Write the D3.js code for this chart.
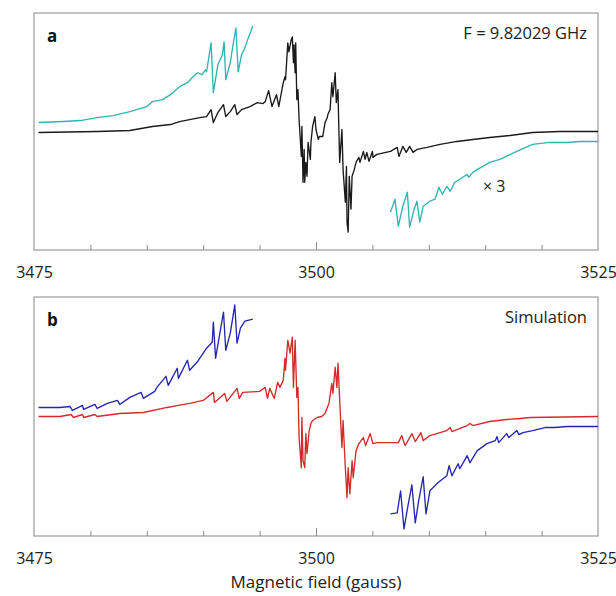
<!DOCTYPE html>
<html>
<head>
<meta charset="utf-8">
<script src="https://cdn.jsdelivr.net/npm/d3@7"></script>
<style>
  html, body { margin: 0; padding: 0; background: #fff; }
  svg { display: block; }
</style>
</head>
<body>
<svg id="chart" width="616" height="596"></svg>
<script>
// ---------------- DATA ----------------
const fieldDomain = [3475, 3525];
const labelTicks = [3475, 3500, 3525];
const minorTicks = [3480, 3485, 3490, 3495, 3505, 3510, 3515, 3520];
const intensityDomain = [-119, 119];

// Panel a: experimental spectrum [field (G), intensity (a.u.)]
const expMain = [
  [3475.4,-1],[3480.6,0],[3483.5,1],[3485.5,5],[3487.1,7],[3487.9,10],[3488.8,12],[3489.7,14],
  [3490.3,15],[3490.7,22],[3490.9,9],[3491.3,19],[3491.8,27],[3492.0,15],[3492.4,20],[3492.8,27],
  [3493.0,17],[3493.4,22],[3494.15,25],[3494.8,29],[3495.3,28],[3495.5,30],[3495.8,41],[3496.1,25],
  [3496.5,37],[3496.7,25],[3497.1,49],[3497.25,55],[3497.3,52],[3497.5,89],[3497.6,80],[3497.8,92],
  [3497.9,95],[3498.0,69],[3498.05,87],[3498.15,59],[3498.2,89],[3498.3,32],[3498.4,42],[3498.5,12],
  [3498.7,-25],[3498.75,5],[3498.85,-51],[3498.95,-18],[3499.0,-51],[3499.1,-31],[3499.2,-45],
  [3499.3,-11],[3499.5,-28],[3499.55,-11],[3499.7,5],[3499.9,15],[3500.0,2],[3500.2,-8],[3500.3,-5],
  [3500.6,-5],[3500.8,9],[3501.0,14],[3501.05,17],[3501.25,22],[3501.4,49],[3501.5,35],[3501.7,59],
  [3501.8,29],[3501.95,42],[3502.0,15],[3502.1,-31],[3502.3,2],[3502.4,-38],[3502.6,-71],[3502.7,-35],
  [3502.75,-91],[3502.85,-101],[3502.95,-45],[3503.1,-78],[3503.2,-45],[3503.4,-38],[3503.55,-31],
  [3503.8,-26],[3503.9,-31],[3504.2,-20],[3504.35,-28],[3504.5,-21],[3504.7,-30],[3505.0,-20],
  [3505.05,-26],[3505.4,-23],[3506.6,-20],[3507.2,-16],[3507.35,-25],[3507.7,-15],[3508.0,-21],
  [3508.3,-15],[3508.6,-21],[3508.95,-18],[3509.85,-16],[3511.0,-13],[3512.5,-10],[3513.9,-8],
  [3515.4,-6],[3517.2,-4],[3519.2,-1],[3521.6,0],[3525,0]
];
// Panel a: x3 expanded wings
const expWingLow = [
  [3475.4,9],[3477.6,10],[3479.1,11],[3480.6,14],[3482.0,16],[3483.5,20],[3485.0,25],[3485.5,30],
  [3486.4,32],[3487.1,37],[3487.9,45],[3488.6,49],[3489.1,55],[3489.5,59],[3489.9,57],[3490.2,62],
  [3490.3,60],[3490.7,89],[3490.9,39],[3491.3,67],[3491.7,77],[3491.85,90],[3492.0,52],[3492.4,69],
  [3492.6,84],[3492.9,104],[3493.1,60],[3493.4,77],[3493.7,84],[3494.0,94],[3494.4,106]
];
const expWingHigh = [
  [3506.6,-81],[3507.0,-68],[3507.3,-95],[3507.7,-75],[3508.1,-61],[3508.3,-96],[3508.7,-78],
  [3508.95,-70],[3509.2,-91],[3509.5,-75],[3510.1,-70],[3510.55,-68],[3510.9,-56],[3511.2,-63],
  [3511.6,-55],[3511.9,-60],[3512.3,-51],[3512.75,-48],[3513.4,-43],[3513.55,-46],[3513.9,-41],
  [3514.3,-38],[3514.8,-35],[3515.4,-31],[3516.3,-28],[3517.8,-20],[3519.2,-13],[3520.7,-11],
  [3522.25,-11],[3523.4,-10],[3525,-10]
];

// Panel b: simulated spectrum
const simMain = [
  [3475.4,0],[3477.3,0],[3478.3,2],[3478.5,-1],[3479.3,2],[3479.4,-1],[3480.4,2],[3480.6,0],
  [3482.6,3],[3484.7,4],[3486.8,9],[3487.8,11],[3488.8,13],[3490.0,16],[3490.9,24],[3491.0,14],
  [3491.9,23],[3492.1,15],[3493.0,28],[3493.2,18],[3493.5,24],[3495.0,25],[3495.5,29],[3495.7,18],
  [3495.9,28],[3496.3,18],[3496.6,34],[3496.8,29],[3497.1,36],[3497.25,58],[3497.3,46],[3497.5,76],
  [3497.7,63],[3497.9,79],[3498.0,29],[3498.15,76],[3498.3,19],[3498.4,29],[3498.5,-21],[3498.7,-51],
  [3498.75,-1],[3498.85,-44],[3499.0,-51],[3499.1,-17],[3499.2,-37],[3499.4,-14],[3499.55,-7],
  [3499.7,-4],[3500.1,-1],[3500.5,0],[3500.8,3],[3501.0,9],[3501.15,13],[3501.4,33],[3501.5,23],
  [3501.7,49],[3501.85,29],[3501.95,53],[3502.1,16],[3502.3,-31],[3502.4,-4],[3502.6,-51],
  [3502.75,-81],[3502.85,-51],[3503.0,-77],[3503.2,-44],[3503.3,-61],[3503.55,-34],[3503.8,-27],
  [3504.2,-21],[3504.4,-29],[3504.8,-17],[3505.05,-27],[3505.4,-26],[3507.3,-26],[3507.6,-19],
  [3507.9,-29],[3508.5,-17],[3508.8,-25],[3509.3,-16],[3509.5,-24],[3510.1,-19],[3511.6,-14],
  [3511.9,-11],[3512.05,-15],[3513.4,-9],[3513.65,-7],[3513.9,-9],[3515.4,-5],[3516.9,-3],
  [3518.1,-2],[3519.0,-1],[3525,0]
];
const simWingLow = [
  [3475.4,9],[3477.3,9],[3478.2,10],[3478.4,6],[3479.3,11],[3479.4,7],[3480.4,12],[3480.6,8],
  [3481.5,13],[3482.4,16],[3482.6,12],[3483.5,19],[3484.5,24],[3484.7,18],[3485.7,25],[3485.9,29],
  [3486.7,40],[3486.9,31],[3487.7,48],[3487.8,38],[3488.6,56],[3488.8,46],[3489.45,54],[3490.3,68],
  [3490.8,74],[3490.9,94],[3491.1,58],[3491.4,78],[3491.8,104],[3492.0,66],[3492.4,83],[3492.8,111],
  [3493.0,73],[3493.3,88],[3493.7,95],[3494.4,97]
];
const simWingHigh = [
  [3506.6,-97],[3507.2,-96],[3507.5,-74],[3507.8,-112],[3508.15,-89],[3508.5,-68],[3508.8,-106],
  [3509.1,-84],[3509.5,-60],[3509.75,-97],[3510.1,-74],[3510.8,-66],[3511.6,-59],[3511.8,-49],
  [3512.05,-59],[3512.6,-47],[3512.75,-52],[3513.4,-39],[3513.65,-46],[3514.3,-34],[3515.15,-27],
  [3515.9,-24],[3516.05,-20],[3516.2,-26],[3516.9,-17],[3517.1,-21],[3517.8,-14],[3518.0,-18],
  [3518.35,-16],[3519.2,-14],[3520.3,-11],[3521.2,-11],[3522.25,-10],[3525,-10]
];

// ---------------- DRAWING ----------------
const svg = d3.select("#chart");
const left = 34, right = 598;
const x = d3.scaleLinear().domain(fieldDomain).range([left, right]);

const panels = [
  { top: 13, bottom: 250, letter: "a", note: "F = 9.82029 GHz",
    series: [ {data: expWingLow, color: "#2fb6b0"}, {data: expWingHigh, color: "#2fb6b0"},
              {data: expMain, color: "#1a1a1a"} ] },
  { top: 297, bottom: 536, letter: "b", note: "Simulation",
    series: [ {data: simWingLow, color: "#2626b4"}, {data: simWingHigh, color: "#2626b4"},
              {data: simMain, color: "#d42a2a"} ] }
];

const font = "'Open Sans', 'Noto Sans', sans-serif";

panels.forEach((p, i) => {
  const y = d3.scaleLinear().domain(intensityDomain).range([p.bottom, p.top]);
  const g = svg.append("g");

  // frame
  g.append("rect").attr("x", left).attr("y", p.top)
    .attr("width", right - left).attr("height", p.bottom - p.top)
    .attr("fill", "none").attr("stroke", "#9a9a9a").attr("stroke-width", 1.2);

  // bottom axis: inward ticks
  const axMinor = d3.axisTop(x).tickValues(minorTicks).tickSize(5).tickFormat("");
  const axMajor = d3.axisTop(x).tickValues([3500]).tickSize(8).tickFormat("");
  [axMinor, axMajor].forEach(ax => {
    const a = g.append("g").attr("transform", `translate(0,${p.bottom})`).call(ax);
    a.select(".domain").remove();
    a.selectAll("line").attr("stroke", "#8a8a8a").attr("stroke-width", 1);
  });

  // tick labels
  const ax = d3.axisBottom(x).tickValues(labelTicks).tickSize(0).tickPadding(0).tickFormat(d3.format("d"));
  const al = g.append("g").attr("transform", `translate(0,${p.bottom + 17})`).call(ax);
  al.select(".domain").remove();
  al.selectAll("text").attr("font-family", font).attr("font-size", 16).attr("fill", "#222");

  // lines
  const line = d3.line().x(d => x(d[0])).y(d => y(d[1]));
  p.series.forEach(s => {
    g.append("path").datum(s.data).attr("d", line)
      .attr("fill", "none").attr("stroke", s.color).attr("stroke-width", 1.35)
      .attr("stroke-linejoin", "round");
  });

  // panel letter
  g.append("text").attr("x", 47).attr("y", p.top + 29).text(p.letter)
    .attr("font-family", font).attr("font-weight", "bold").attr("font-size", 17).attr("fill", "#111");
  // note
  g.append("text").attr("x", 587).attr("y", p.top + 26).text(p.note)
    .attr("text-anchor", "end").attr("font-family", font).attr("font-size", 16.5).attr("fill", "#222");
});

// x3 label
const yA = d3.scaleLinear().domain(intensityDomain).range([250, 13]);
svg.append("text").attr("x", 483).attr("y", yA(-56) + 5).text("\u00d7 3")
  .attr("font-family", font).attr("font-size", 16).attr("fill", "#222");

// axis title
svg.append("text").attr("x", (left + right) / 2).attr("y", 588).text("Magnetic field (gauss)")
  .attr("text-anchor", "middle").attr("font-family", font).attr("font-size", 17).attr("fill", "#222");
</script>
</body>
</html>
